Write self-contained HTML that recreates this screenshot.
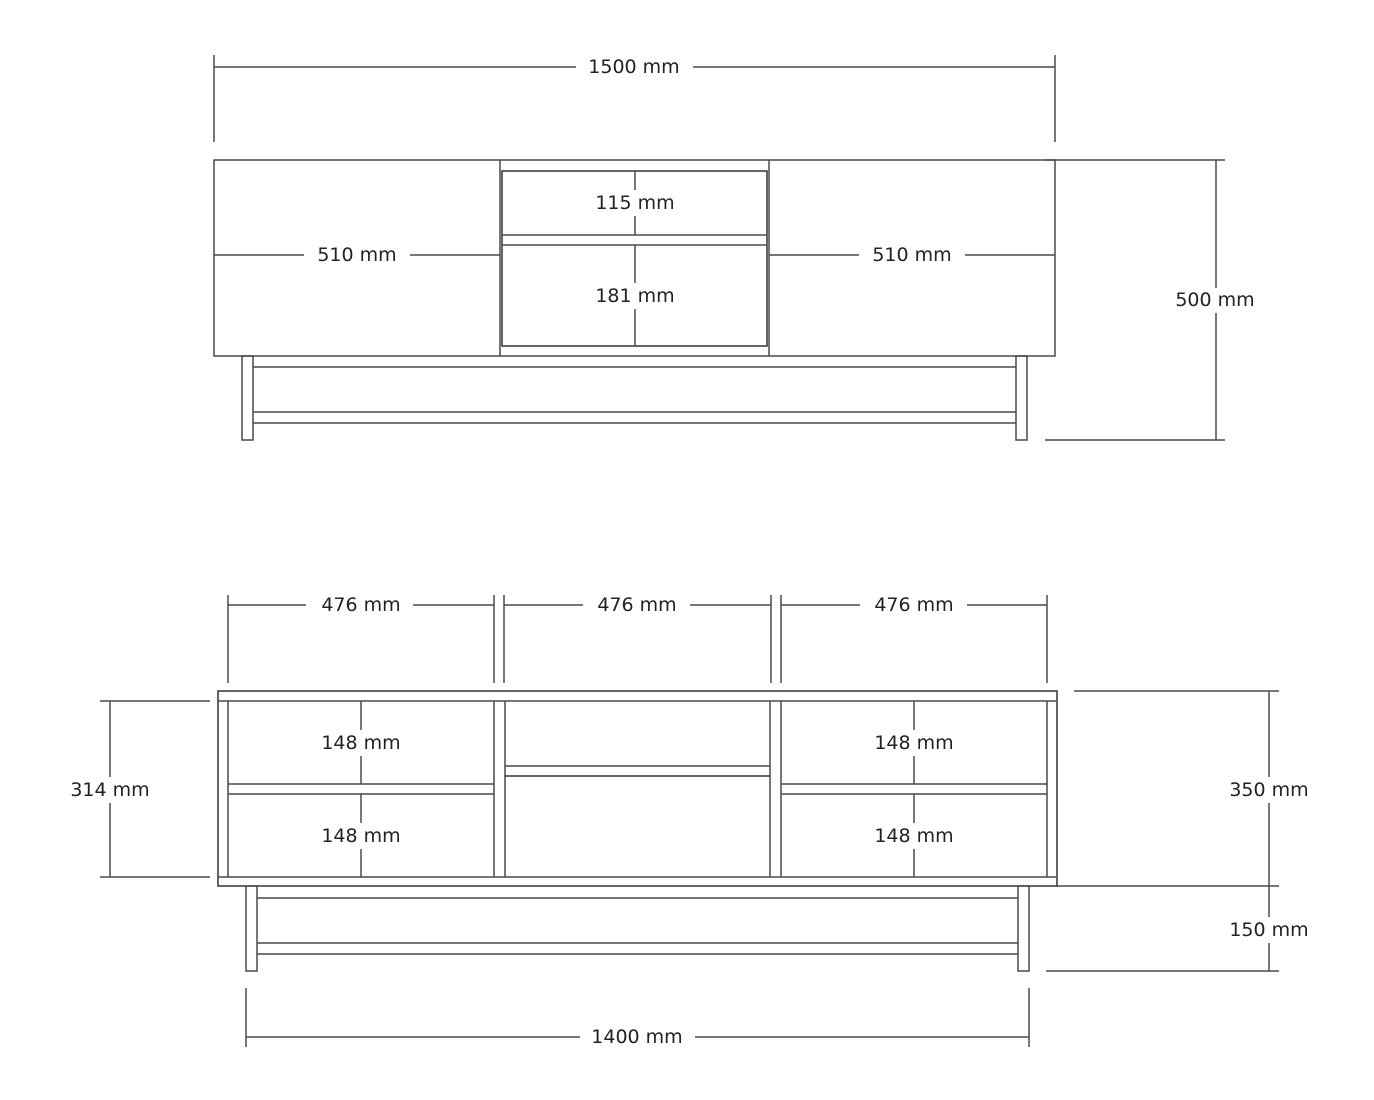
<!DOCTYPE html>
<html><head><meta charset="utf-8"><style>
html,body{margin:0;padding:0;background:#fff;}
svg{display:block}
text{font-family:"DejaVu Sans","Liberation Sans",sans-serif;font-size:19px;fill:#222;text-anchor:middle;dominant-baseline:central}
</style></head><body>
<svg width="1374" height="1100" viewBox="0 0 1374 1100" xmlns="http://www.w3.org/2000/svg">
<g fill="none" stroke="#4a4a4a" stroke-width="1.5">
<!-- TOP VIEW -->
<line x1="214" y1="55" x2="214" y2="142"/><line x1="1055" y1="55" x2="1055" y2="142"/>
<line x1="214" y1="67" x2="576" y2="67"/><line x1="693" y1="67" x2="1055" y2="67"/>
<rect x="214" y="160" width="841" height="196"/>
<line x1="500" y1="160" x2="500" y2="356"/><line x1="769" y1="160" x2="769" y2="356"/>
<rect x="502" y="171" width="265" height="175" stroke="#333"/>
<line x1="502" y1="235" x2="767" y2="235"/><line x1="502" y1="245" x2="767" y2="245"/>
<line x1="214" y1="255" x2="304" y2="255"/><line x1="410" y1="255" x2="500" y2="255"/>
<line x1="769" y1="255" x2="859" y2="255"/><line x1="965" y1="255" x2="1055" y2="255"/>
<line x1="635" y1="171" x2="635" y2="190"/><line x1="635" y1="216" x2="635" y2="235"/>
<line x1="635" y1="245" x2="635" y2="283"/><line x1="635" y1="309" x2="635" y2="346"/>
<rect x="242" y="356" width="11" height="84"/><rect x="1016" y="356" width="11" height="84"/>
<line x1="253" y1="367" x2="1016" y2="367"/><line x1="253" y1="412" x2="1016" y2="412"/><line x1="253" y1="423" x2="1016" y2="423"/>
<line x1="1045" y1="160" x2="1225" y2="160"/><line x1="1045" y1="440" x2="1225" y2="440"/>
<line x1="1216" y1="160" x2="1216" y2="288"/><line x1="1216" y1="313" x2="1216" y2="440"/>
<!-- BOTTOM VIEW -->
<line x1="228" y1="595" x2="228" y2="683"/><line x1="494" y1="595" x2="494" y2="683"/>
<line x1="504" y1="595" x2="504" y2="683"/><line x1="771" y1="595" x2="771" y2="683"/>
<line x1="781" y1="595" x2="781" y2="683"/><line x1="1047" y1="595" x2="1047" y2="683"/>
<line x1="228" y1="605" x2="306" y2="605"/><line x1="413" y1="605" x2="494" y2="605"/>
<line x1="504" y1="605" x2="583" y2="605"/><line x1="690" y1="605" x2="771" y2="605"/>
<line x1="781" y1="605" x2="860" y2="605"/><line x1="967" y1="605" x2="1047" y2="605"/>
<rect x="218" y="691" width="839" height="195" stroke="#333"/>
<line x1="218" y1="701" x2="1057" y2="701"/><line x1="218" y1="877" x2="1057" y2="877"/>
<line x1="228" y1="701" x2="228" y2="877"/><line x1="1047" y1="701" x2="1047" y2="877"/>
<line x1="494" y1="701" x2="494" y2="877"/><line x1="505" y1="701" x2="505" y2="877"/>
<line x1="770" y1="701" x2="770" y2="877"/><line x1="781" y1="701" x2="781" y2="877"/>
<line x1="228" y1="784" x2="494" y2="784"/><line x1="228" y1="794" x2="494" y2="794"/>
<line x1="781" y1="784" x2="1047" y2="784"/><line x1="781" y1="794" x2="1047" y2="794"/>
<line x1="505" y1="766" x2="770" y2="766"/><line x1="505" y1="776" x2="770" y2="776" stroke="#333"/>
<line x1="361" y1="701" x2="361" y2="730"/><line x1="361" y1="756" x2="361" y2="784"/>
<line x1="361" y1="794" x2="361" y2="823"/><line x1="361" y1="849" x2="361" y2="877"/>
<line x1="914" y1="701" x2="914" y2="730"/><line x1="914" y1="756" x2="914" y2="784"/>
<line x1="914" y1="794" x2="914" y2="823"/><line x1="914" y1="849" x2="914" y2="877"/>
<rect x="246" y="886" width="11" height="85"/><rect x="1018" y="886" width="11" height="85"/>
<line x1="257" y1="898" x2="1018" y2="898"/><line x1="257" y1="943" x2="1018" y2="943"/><line x1="257" y1="954" x2="1018" y2="954"/>
<line x1="100" y1="701" x2="210" y2="701"/><line x1="100" y1="877" x2="210" y2="877"/>
<line x1="110" y1="701" x2="110" y2="777"/><line x1="110" y1="803" x2="110" y2="877"/>
<line x1="1074" y1="691" x2="1279" y2="691"/><line x1="1057" y1="886" x2="1279" y2="886"/><line x1="1046" y1="971" x2="1279" y2="971"/>
<line x1="1269" y1="691" x2="1269" y2="777"/><line x1="1269" y1="803" x2="1269" y2="917"/><line x1="1269" y1="943" x2="1269" y2="971"/>
<line x1="246" y1="988" x2="246" y2="1047"/><line x1="1029" y1="988" x2="1029" y2="1047"/>
<line x1="246" y1="1037" x2="580" y2="1037"/><line x1="695" y1="1037" x2="1029" y2="1037"/>
</g>
<text x="634" y="67">1500 mm</text>
<text x="357" y="255">510 mm</text>
<text x="912" y="255">510 mm</text>
<text x="635" y="203">115 mm</text>
<text x="635" y="296">181 mm</text>
<text x="1215" y="300">500 mm</text>
<text x="361" y="605">476 mm</text>
<text x="637" y="605">476 mm</text>
<text x="914" y="605">476 mm</text>
<text x="361" y="743">148 mm</text>
<text x="361" y="836">148 mm</text>
<text x="914" y="743">148 mm</text>
<text x="914" y="836">148 mm</text>
<text x="110" y="790">314 mm</text>
<text x="1269" y="790">350 mm</text>
<text x="1269" y="930">150 mm</text>
<text x="637" y="1037">1400 mm</text>
</svg>
</body></html>
